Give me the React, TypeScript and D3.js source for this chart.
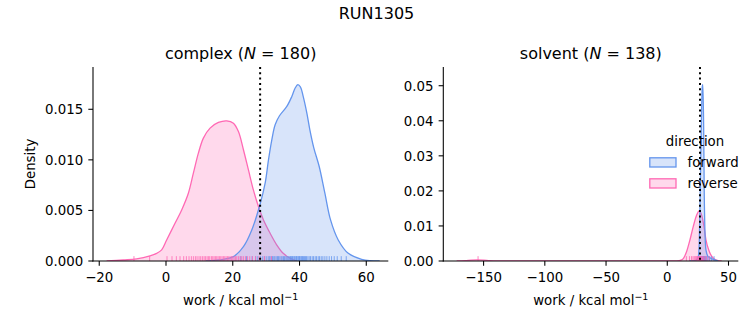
import React from "react";
import * as d3 from "d3";

const FIG_TITLE = "RUN1305";
const PANEL_NAMES = ["complex", "solvent"];
const PANEL_N = [180, 138];
const DIRECTIONS = ["forward", "reverse"];
const COLORS = ["#6495ED", "#FF69B4"];
const LEGEND_TITLE = "direction";

// complex: KDE curves (work, density)
const complexForwardWork = [12, 17.2, 20.2, 23.2, 25.7, 28.2, 29.7, 30.7, 31.7, 32.7, 34.0, 36.2, 37.7, 38.7, 39.5, 40.3, 41.1, 42.2, 43.1, 44.3, 45.9, 47.6, 49.3, 51.6, 54.6, 58.6, 61.1, 64];
const complexForwardDensity = [0, 0.00017, 0.00043, 0.00142, 0.00307, 0.00564, 0.00769, 0.0100, 0.01198, 0.01347, 0.01436, 0.01528, 0.01627, 0.0171, 0.01743, 0.0172, 0.01627, 0.01462, 0.01297, 0.01116, 0.00934, 0.0067, 0.00406, 0.00208, 0.00076, 0.00017, 0.00003, 0];
const complexReverseWork = [-17.8, -12.8, -8.8, -4.8, -2.8, -1.3, 0.2, 2.7, 4.7, 6.7, 8.2, 9.7, 11.2, 13.2, 15.7, 18.2, 20.2, 21.7, 23.2, 24.7, 26.2, 27.7, 29.2, 31.2, 33.2, 35.1, 37.2, 39.2];
const complexReverseDensity = [0, 0.0001, 0.0002, 0.0005, 0.00076, 0.0011, 0.00208, 0.00373, 0.00505, 0.0067, 0.00868, 0.01066, 0.01215, 0.01314, 0.0137, 0.01386, 0.01363, 0.0128, 0.0110, 0.0090, 0.0070, 0.00538, 0.00406, 0.00274, 0.00158, 0.00076, 0.00027, 0];

// solvent: KDE curves (work, density)
const solventForwardWork = [18, 23.4, 25.3, 26.1, 26.9, 27.8, 28.6, 29.1, 29.7, 30.2, 30.8, 31.6, 33.5, 36.2, 38.9, 41.6];
const solventForwardDensity = [0, 0.0002, 0.0012, 0.005, 0.0193, 0.0384, 0.0498, 0.0503, 0.0384, 0.0193, 0.0079, 0.0031, 0.0012, 0.0007, 0.0003, 0];
const solventReverseWork = [-172, -165, -160, -155, -150, -145, -138, -130, 0, 7.7, 11.8, 15.8, 18.5, 21.2, 24, 26.1, 28.1, 30, 31.6, 34.3, 37.6, 41.6, 44.4];
const solventReverseDensity = [0, 0.0001, 0.00025, 0.00032, 0.00025, 0.00012, 0.00003, 0, 0, 0, 0.0003, 0.0027, 0.006, 0.0098, 0.0131, 0.0143, 0.0131, 0.0098, 0.006, 0.0027, 0.0008, 0.0001, 0];

// rug samples
const complexForwardRug = [22.4, 24.1, 25.8, 26.9, 27.5, 28.3, 29.0, 29.6, 30.2, 30.8, 31.1, 31.5, 31.9, 32.3, 32.6, 33.0, 33.4, 33.7, 34.1, 34.5, 34.8, 35.2, 35.5, 35.9, 36.2, 36.5, 36.8, 37.1, 37.3, 37.6, 37.9, 38.1, 38.4, 38.6, 38.9, 39.1, 39.3, 39.6, 39.8, 40.0, 40.2, 40.5, 40.7, 40.9, 41.2, 41.5, 41.8, 42.1, 42.5, 42.9, 43.3, 43.8, 44.2, 44.7, 45.1, 45.6, 46.0, 46.5, 47.0, 47.6, 48.2, 48.9, 49.6, 50.4, 51.3, 52.5, 54.0];
const complexReverseRug = [-9.6, -4.9, 0.3, 1.8, 3.1, 4.2, 5.3, 6.1, 6.9, 7.6, 8.2, 8.8, 9.3, 9.9, 10.4, 10.9, 11.4, 11.8, 12.3, 12.7, 13.1, 13.6, 14.0, 14.4, 14.8, 15.2, 15.6, 16.0, 16.4, 16.8, 17.2, 17.6, 18.0, 18.4, 18.8, 19.2, 19.6, 20.0, 20.4, 20.8, 21.2, 21.7, 22.2, 22.7, 23.2, 23.8, 24.4, 25.1, 25.9, 26.8, 27.9, 29.5, 31.6];
const solventForwardRug = [25.8, 26.5, 27.0, 27.4, 27.7, 28.0, 28.2, 28.4, 28.6, 28.8, 29.0, 29.1, 29.3, 29.5, 29.7, 29.9, 30.1, 30.4, 30.8, 31.3, 32.0, 33.1, 34.5, 36.0, 38.2];
const solventReverseRug = [-154.5, 15.6, 18.2, 19.8, 21.0, 22.0, 22.8, 23.5, 24.1, 24.6, 25.1, 25.6, 26.0, 26.4, 26.8, 27.2, 27.6, 28.1, 28.6, 29.2, 29.9, 30.8, 32.1, 34.0];

const complexXTicks = [-20, 0, 20, 40, 60];
const complexYTicks = [0, 0.005, 0.01, 0.015];
const solventXTicks = [-150, -100, -50, 0, 50];
const solventYTicks = [0, 0.01, 0.02, 0.03, 0.04, 0.05];
const complexXDomain = [-21.87, 66.6];
const complexYDomain = [0, 0.01918];
const solventXDomain = [-182.9, 58];
const solventYDomain = [0, 0.05534];
const estimateLines = [28.2, 26.7];

const FONT = "DejaVu Sans, sans-serif";

type Panel = {
  name: string;
  n: number;
  x0: number;
  x1: number;
  xDomain: number[];
  yDomain: number[];
  xTicks: number[];
  yTicks: number[];
  yFmt: string;
  curves: { w: number[]; d: number[]; c: string }[];
  rugs: { w: number[]; c: string }[];
  vline: number;
  ylabel: boolean;
  smooth: boolean;
};

const TOP = 67;
const BOTTOM = 261;

function PanelView({ p }: { p: Panel }) {
  const x = d3.scaleLinear().domain(p.xDomain).range([p.x0, p.x1]);
  const y = d3.scaleLinear().domain(p.yDomain).range([BOTTOM, TOP]);
  const curve = p.smooth ? d3.curveCatmullRom.alpha(0.5) : d3.curveMonotoneX;
  const area = d3
    .area<[number, number]>()
    .x((d) => x(d[0]))
    .y0(y(0))
    .y1((d) => Math.min(y(0), y(d[1])))
    .curve(curve);
  const line = d3
    .line<[number, number]>()
    .x((d) => x(d[0]))
    .y((d) => y(d[1]))
    .curve(curve);
  const fmt = d3.format(p.yFmt);
  const cx = (p.x0 + p.x1) / 2;
  const rugH = (BOTTOM - TOP) * 0.025;
  return (
    <g>
      <defs>
        <clipPath id={"clip-" + p.name}>
          <rect x={p.x0} y={TOP} width={p.x1 - p.x0} height={BOTTOM - TOP} />
        </clipPath>
      </defs>
      <g clipPath={`url(#clip-${p.name})`}>
        {p.curves.map((c, i) => {
          const pts = c.w.map((w, k) => [w, c.d[k]] as [number, number]);
          return (
            <g key={i}>
              <path d={area(pts) || ""} fill={c.c} fillOpacity={0.25} stroke="none" />
              <path d={line(pts) || ""} fill="none" stroke={c.c} strokeWidth={1.3} />
            </g>
          );
        })}
        {p.rugs.map((r, i) => (
          <g key={"r" + i}>
            {r.w.map((w, k) => (
              <line
                key={k}
                x1={x(w)}
                x2={x(w)}
                y1={BOTTOM}
                y2={BOTTOM - rugH}
                stroke={r.c}
                strokeOpacity={0.8}
                strokeWidth={1}
              />
            ))}
          </g>
        ))}
        <line
          x1={x(p.vline)}
          x2={x(p.vline)}
          y1={TOP}
          y2={BOTTOM}
          stroke="#000"
          strokeWidth={2}
          strokeDasharray="2,3.3"
        />
      </g>
      {/* spines */}
      <line x1={p.x0} x2={p.x0} y1={TOP} y2={BOTTOM + 0.5} stroke="#000" strokeWidth={1.07} />
      <line x1={p.x0 - 0.5} x2={p.x1} y1={BOTTOM} y2={BOTTOM} stroke="#000" strokeWidth={1.07} />
      {p.xTicks.map((t) => (
        <g key={"xt" + t}>
          <line x1={x(t)} x2={x(t)} y1={BOTTOM} y2={BOTTOM + 4.67} stroke="#000" strokeWidth={1.07} />
          <text x={x(t)} y={281.5} textAnchor="middle" fontSize={13.33} fontFamily={FONT} fill="#000">
            {d3.format("")(t).replace("-", "\u2212")}
          </text>
        </g>
      ))}
      {p.yTicks.map((t) => (
        <g key={"yt" + t}>
          <line x1={p.x0} x2={p.x0 - 4.67} y1={y(t)} y2={y(t)} stroke="#000" strokeWidth={1.07} />
          <text x={p.x0 - 9.8} y={y(t) + 4.8} textAnchor="end" fontSize={13.33} fontFamily={FONT} fill="#000">
            {fmt(t)}
          </text>
        </g>
      ))}
      <text x={cx} y={305} textAnchor="middle" fontSize={13.33} fontFamily={FONT} fill="#000">
        work / kcal mol
        <tspan fontSize={9.5} dy={-5.5}>{"\u22121"}</tspan>
      </text>
      {p.ylabel && (
        <text
          transform={`translate(35,${(TOP + BOTTOM) / 2}) rotate(-90)`}
          textAnchor="middle"
          fontSize={13.33}
          fontFamily={FONT}
          fill="#000"
        >
          Density
        </text>
      )}
      <text x={cx} y={59} textAnchor="middle" fontSize={16} fontFamily={FONT} fill="#000">
        {p.name} (<tspan fontStyle="italic">N</tspan>
        {" = " + p.n + ")"}
      </text>
    </g>
  );
}

export default function App() {
  const panels: Panel[] = [
    {
      name: PANEL_NAMES[0],
      n: PANEL_N[0],
      x0: 93,
      x1: 388.3,
      xDomain: complexXDomain,
      yDomain: complexYDomain,
      xTicks: complexXTicks,
      yTicks: complexYTicks,
      yFmt: ".3f",
      curves: [
        { w: complexReverseWork, d: complexReverseDensity, c: COLORS[1] },
        { w: complexForwardWork, d: complexForwardDensity, c: COLORS[0] },
      ],
      rugs: [
        { w: complexForwardRug, c: COLORS[0] },
        { w: complexReverseRug, c: COLORS[1] },
      ],
      vline: estimateLines[0],
      ylabel: true,
      smooth: true,
    },
    {
      name: PANEL_NAMES[1],
      n: PANEL_N[1],
      x0: 443.3,
      x1: 738.3,
      xDomain: solventXDomain,
      yDomain: solventYDomain,
      xTicks: solventXTicks,
      yTicks: solventYTicks,
      yFmt: ".2f",
      curves: [
        { w: solventReverseWork, d: solventReverseDensity, c: COLORS[1] },
        { w: solventForwardWork, d: solventForwardDensity, c: COLORS[0] },
      ],
      rugs: [
        { w: solventForwardRug, c: COLORS[0] },
        { w: solventReverseRug, c: COLORS[1] },
      ],
      vline: estimateLines[1],
      ylabel: false,
      smooth: false,
    },
  ];
  return (
    <svg
      width={753}
      height={325}
      style={{ position: "absolute", left: 0, top: 0, background: "#fff" }}
    >
      <rect width={753} height={325} fill="#fff" />
      <text x={376.5} y={19} textAnchor="middle" fontSize={16} fontFamily={FONT} fill="#000">
        {FIG_TITLE}
      </text>
      {panels.map((p) => (
        <PanelView key={p.name} p={p} />
      ))}
      <g>
        <text x={695} y={146} textAnchor="middle" fontSize={13.33} fontFamily={FONT} fill="#000">
          {LEGEND_TITLE}
        </text>
        {DIRECTIONS.map((d, i) => (
          <g key={d}>
            <rect
              x={649.8}
              y={157.8 + i * 21}
              width={26.2}
              height={9.2}
              fill={COLORS[i]}
              fillOpacity={0.25}
              stroke={COLORS[i]}
              strokeWidth={1.3}
            />
            <text x={687.5} y={167 + i * 21} fontSize={13.33} fontFamily={FONT} fill="#000">
              {d}
            </text>
          </g>
        ))}
      </g>
    </svg>
  );
}
